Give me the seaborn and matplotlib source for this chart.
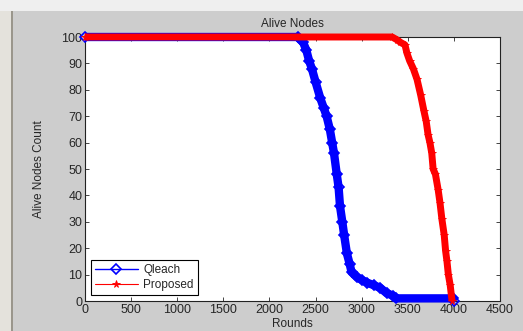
import matplotlib
matplotlib.use("Agg")
import matplotlib.pyplot as plt
import matplotlib.patches as mpatches
import seaborn as sns
import pandas as pd

# --- data ---
qleach_rounds = [0, 2310, 2340, 2365, 2400, 2430, 2460,
                 2500, 2550, 2590, 2620, 2655, 2680, 2700, 2730, 2750, 2765,
                 2790, 2810, 2840, 2870, 2890, 2950, 3000, 3055, 3130, 3200,
                 3270, 3340, 3370, 3990, 4000]
qleach_alive = [100, 100, 99, 98, 95, 91, 88,
                83, 77, 73, 70, 65, 60, 56, 48, 43, 36,
                30, 25, 18, 14, 11, 9, 8, 7, 6, 5,
                3, 2, 1, 1, 0]

proposed_rounds = [0, 3330, 3380, 3420,
                   3470, 3490, 3520, 3560, 3600, 3640, 3675, 3700, 3720, 3740,
                   3760, 3775, 3800, 3830, 3850, 3870, 3895, 3910, 3925, 3940,
                   3960, 3980]
proposed_alive = [100, 100, 99, 98,
                  97, 94, 91, 88, 84, 78, 72, 68, 63, 60,
                  56, 50, 48, 42, 37, 31, 25, 19, 15, 10,
                  6, 0]

x_ticks = [0, 500, 1000, 1500, 2000, 2500, 3000, 3500, 4000, 4500]
y_ticks = [0, 10, 20, 30, 40, 50, 60, 70, 80, 90, 100]

BG = "#cdcdcd"
BLUE = "#0000ff"
RED = "#ff0000"

sns.set_style("ticks")
plt.rcParams["font.family"] = ["Liberation Sans", "DejaVu Sans"]
plt.rcParams["xtick.direction"] = "in"
plt.rcParams["ytick.direction"] = "in"

df_q = pd.DataFrame({"Rounds": qleach_rounds, "Alive": qleach_alive})
df_p = pd.DataFrame({"Rounds": proposed_rounds, "Alive": proposed_alive})

fig = plt.figure(figsize=(5.23, 3.31), dpi=100, facecolor=BG)
# window chrome: toolbar strip on top, frame on the left
fig.patches.append(mpatches.Rectangle((0, 1 - 11 / 331), 1, 11 / 331, transform=fig.transFigure,
                                      facecolor="#efefef", edgecolor="none", zorder=0))
fig.patches.append(mpatches.Rectangle((0, 0), 11 / 523, 1 - 11 / 331, transform=fig.transFigure,
                                      facecolor="#e4e2dc", edgecolor="none", zorder=0))
fig.patches.append(mpatches.Rectangle((11 / 523, 0), 1.5 / 523, 1 - 11 / 331, transform=fig.transFigure,
                                      facecolor="#9a968c", edgecolor="none", zorder=0))

ax = fig.add_axes([85 / 523, 1 - 301 / 331, 415 / 523, 264 / 331])
ax.set_facecolor("white")

# thick bands that mimic the dense per-round markers
ax.plot(df_q["Rounds"], df_q["Alive"], color=BLUE, lw=6, solid_capstyle="butt",
        zorder=2, clip_on=False)
sns.lineplot(data=df_q, x="Rounds", y="Alive", ax=ax, color=BLUE, lw=1,
             marker="D", markersize=5, markerfacecolor="none", markeredgecolor=BLUE,
             markeredgewidth=1.2, label="Qleach", zorder=3, clip_on=False)
ax.plot(df_p["Rounds"], df_p["Alive"], color=RED, lw=5, solid_capstyle="butt",
        zorder=4, clip_on=False)
sns.lineplot(data=df_p, x="Rounds", y="Alive", ax=ax, color=RED, lw=0.8,
             marker="*", markersize=5.5, markeredgecolor=RED, markeredgewidth=0.6,
             label="Proposed", zorder=5, clip_on=False)

ax.set_xlim(0, 4500)
ax.set_ylim(0, 100)
ax.set_xticks(x_ticks)
ax.set_yticks(y_ticks)
ax.tick_params(labelsize=9, length=3, width=0.6, top=True, right=True, pad=2)
for s in ax.spines.values():
    s.set_linewidth(0.8)
    s.set_color("#222222")
    s.set_visible(True)
    s.set_zorder(1)

ax.set_title("Alive Nodes", fontsize=8.5, pad=7)
ax.set_xlabel("Rounds", fontsize=8.5, labelpad=1.5)
ax.set_ylabel("Alive Nodes Count", fontsize=8.5, labelpad=12)

leg = ax.legend(loc="lower left", fontsize=8.5, frameon=True, fancybox=False,
                edgecolor="black", framealpha=1, borderpad=0.35, handlelength=3.6,
                labelspacing=0.25, borderaxespad=0.5, handletextpad=0.5)
leg.get_frame().set_linewidth(0.8)
leg.set_zorder(10)

fig.savefig("out.png", dpi=100, facecolor=BG)
